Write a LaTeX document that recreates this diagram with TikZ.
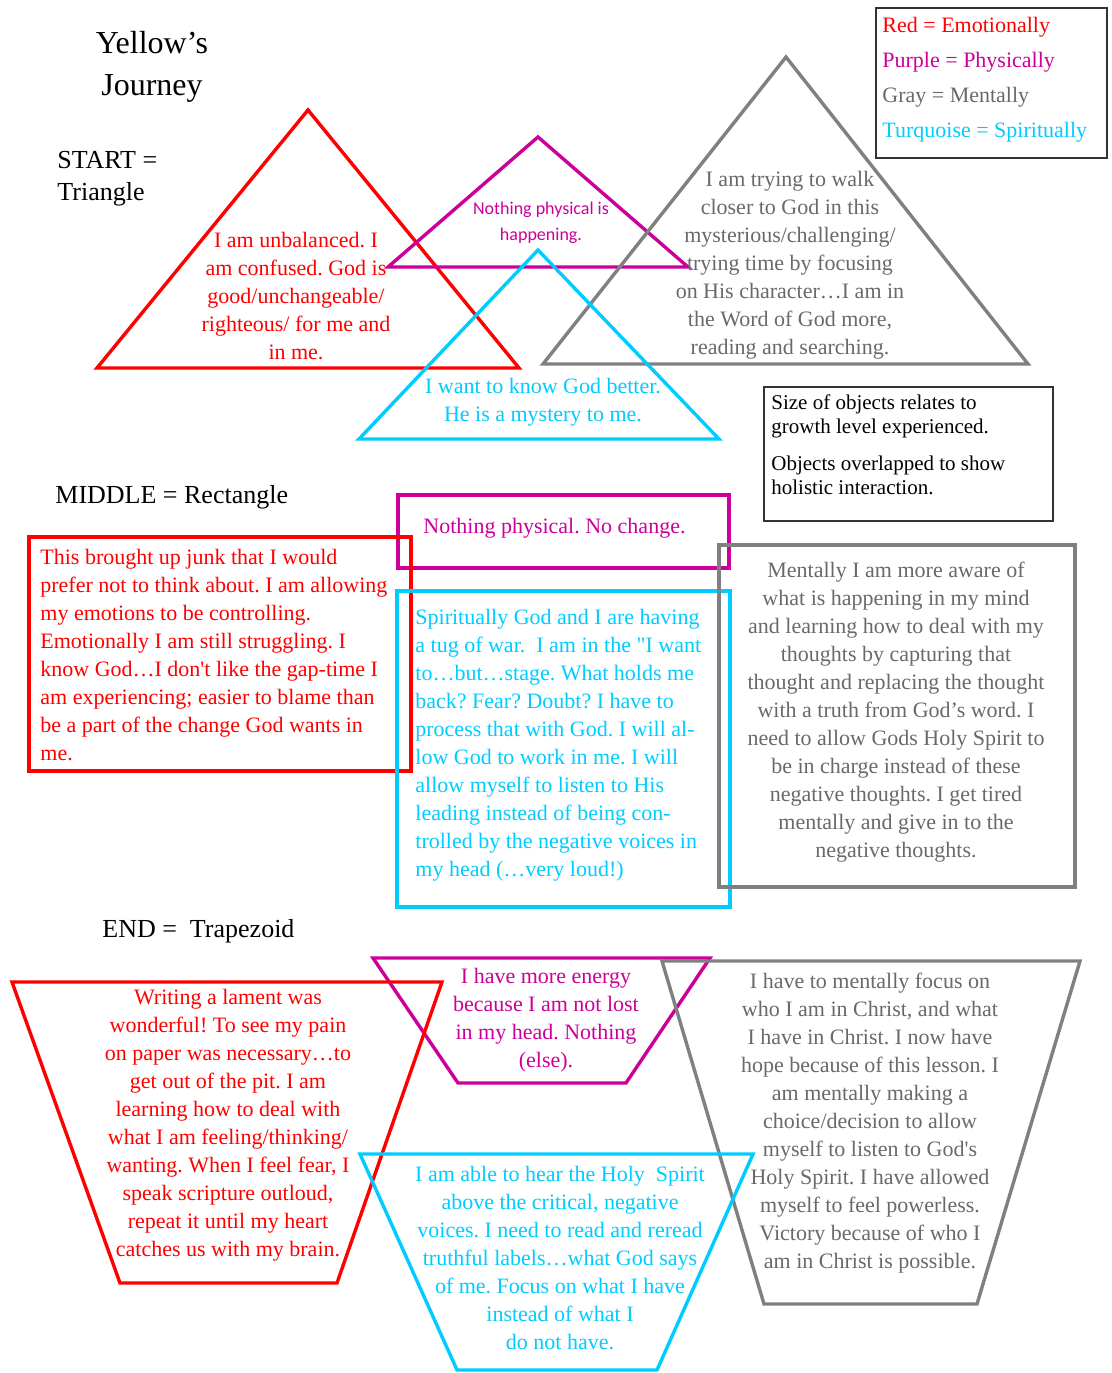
\documentclass[tikz,border=0pt]{standalone}
\usepackage{fontspec}
\setmainfont{Liberation Serif}[Ligatures=TeXOff]
\newfontfamily\calib{Carlito}
\definecolor{emo}{RGB}{255,0,0}
\definecolor{phy}{RGB}{204,0,153}
\definecolor{spi}{RGB}{0,204,255}
\definecolor{men}{RGB}{128,128,128}
\definecolor{mentxt}{RGB}{105,105,105}
\frenchspacing
\begin{document}
\begin{tikzpicture}[x=0.5pt,y=-0.5pt,
  shp/.style={line width=1.7pt, line join=miter},
  body/.style={font=\fontsize{11}{14}\selectfont, inner sep=0pt, align=center},
  bodyl/.style={font=\fontsize{11}{14}\selectfont, inner sep=0pt, align=left, anchor=west},
  head/.style={font=\fontsize{13}{16}\selectfont, inner sep=0pt, align=left, anchor=west},
  frame/.style={draw=black!80, line width=1pt}]
\useasboundingbox (0,0) rectangle (1112,1373);
% ---------- START: triangles ----------
\draw[shp, emo] (308,110) -- (519,368) -- (97,368) -- cycle;
\draw[shp, phy] (538,137) -- (688,267) -- (388,267) -- cycle;
\draw[shp, men] (786,57) -- (1028,364) -- (543,364) -- cycle;
\draw[shp, spi] (538,250) -- (719,439) -- (359,439) -- cycle;
% ---------- MIDDLE: rectangles ----------
\draw[shp, phy] (398,495) rectangle (729,568);
\draw[shp, emo] (29,537) rectangle (411,771);
\draw[shp, spi] (397,591) rectangle (730,907);
\draw[shp, men] (719,545) rectangle (1075,887);
% ---------- END: trapezoids ----------
\draw[shp, phy] (373,958) -- (710,958) -- (626,1083) -- (458,1083) -- cycle;
\draw[shp, emo] (12,982) -- (442,982) -- (337,1283) -- (120,1283) -- cycle;
\draw[shp, men] (662,961) -- (1080,961) -- (977,1304) -- (764,1304) -- cycle;
\draw[shp, spi] (360,1154) -- (753,1154) -- (657,1370) -- (457,1370) -- cycle;
% ---------- boxes ----------
\draw[frame] (876,8) rectangle (1107,158);
\draw[frame] (764,387) rectangle (1053,521);
% ---------- headings ----------
\node[font=\fontsize{16}{21}\selectfont, align=center, inner sep=0pt] (title) at (152,67) {Yellow’s\\Journey};
\node[head] (start) at (57,179) {START =\\Triangle};
\node[head] (middle) at (55,497) {MIDDLE = Rectangle};
\node[head] (endh) at (102,931) {END =\ \ Trapezoid};
% ---------- legend ----------
\node[font=\fontsize{11}{17.5}\selectfont, inner sep=0pt, align=left, anchor=west] (legend) at (882,80)
  {\textcolor{emo}{Red = Emotionally}\\\textcolor{phy}{Purple = Physically}\\\textcolor{mentxt}{Gray = Mentally}\\\textcolor{spi}{Turquoise = Spiritually}};
\node[font=\fontsize{10.5}{12}\selectfont, inner sep=0pt, align=left, anchor=west] (note1) at (771,416)
  {Size of objects relates to\\growth level experienced.};
\node[font=\fontsize{10.5}{12}\selectfont, inner sep=0pt, align=left, anchor=west] (note2) at (771,475)
  {Objects overlapped to show\\holistic interaction.};
% ---------- triangle texts ----------
\node[body, text=emo] (t1) at (296,296) {I am unbalanced. I\\am confused. God is\\good/unchangeable/\\righteous/ for me and\\in me.};
\node[font=\calib\fontsize{9}{13}\selectfont, inner sep=0pt, align=center, text=phy] (t2) at (541,223) {Nothing physical is\\happening.};
\node[body, text=mentxt] (t3) at (790,265) {I am trying to walk\\closer to God in this\\mysterious/challenging/\\trying time by focusing\\on His character…I am in\\the Word of God more,\\reading and searching.};
\node[body, text=spi] (t4) at (543,402) {I want to know God better.\\He is a mystery to me.};
% ---------- rectangle texts ----------
\node[bodyl, text=emo] (r1) at (40,655) {This brought up junk that I would\\prefer not to think about. I am allowing\\my emotions to be controlling.\\Emotionally I am still struggling. I\\know God…I don't like the gap-time I\\am experiencing; easier to blame than\\be a part of the change God wants in\\me.};
\node[bodyl, text=phy] (r2) at (423,528) {Nothing physical. No change.};
\node[bodyl, text=spi] (r3) at (415,745) {Spiritually God and I are having\\a tug of war.\ \ I am in the "I want\\to…but…stage. What holds me\\back? Fear? Doubt? I have to\\process that with God. I will al-\\low God to work in me. I will\\allow myself to listen to His\\leading instead of being con-\\trolled by the negative voices in\\my head (…very loud!)};
\node[body, text=mentxt] (r4) at (896,712) {Mentally I am more aware of\\what is happening in my mind\\and learning how to deal with my\\thoughts by capturing that\\thought and replacing the thought\\with a truth from God’s word. I\\need to allow Gods Holy Spirit to\\be in charge instead of these\\negative thoughts. I get tired\\mentally and give in to the\\negative thoughts.};
% ---------- trapezoid texts ----------
\node[body, text=emo] (z1) at (228,1125) {Writing a lament was\\wonderful! To see my pain\\on paper was necessary…to\\get out of the pit. I am\\learning how to deal with\\what I am feeling/thinking/\\wanting. When I feel fear, I\\speak scripture outloud,\\repeat it until my heart\\catches us with my brain.};
\node[body, text=phy] (z2) at (546,1020) {I have more energy\\because I am not lost\\in my head. Nothing\\(else).};
\node[body, text=mentxt] (z3) at (870,1123) {I have to mentally focus on\\who I am in Christ, and what\\I have in Christ. I now have\\hope because of this lesson. I\\am mentally making a\\choice/decision to allow\\myself to listen to God's\\Holy Spirit. I have allowed\\myself to feel powerless.\\Victory because of who I\\am in Christ is possible.};
\node[body, text=spi] (z4) at (560,1258) {I am able to hear the Holy\ \ Spirit\\above the critical, negative\\voices. I need to read and reread\\truthful labels…what God says\\of me. Focus on what I have\\instead of what I\\do not have.};
\end{tikzpicture}
\end{document}
